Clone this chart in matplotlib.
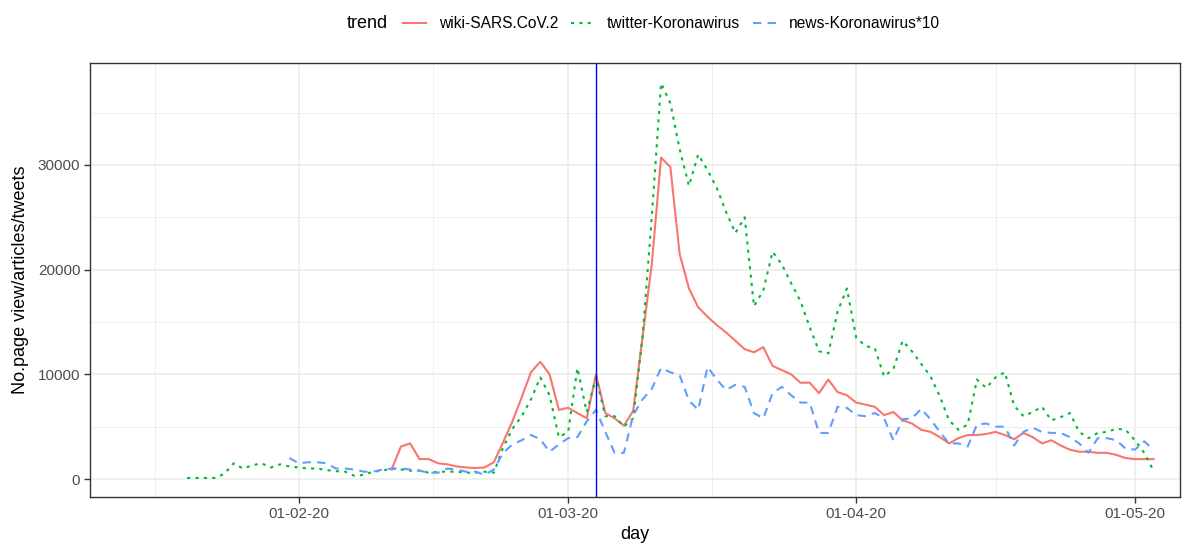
import matplotlib
matplotlib.use('Agg')
import matplotlib.pyplot as plt
import matplotlib.dates as mdates
from matplotlib.lines import Line2D
import numpy as np
import pandas as pd

plt.rcParams['font.family'] = ['Liberation Sans', 'DejaVu Sans']

# dane dzienne
twitter_start = '2020-01-20'
twitter_vals = [100, 100, 100, 100, 500, 1500, 1000, 1300, 1500, 1100, 1400, 1200,
                1100, 1000, 1000, 850, 750, 700, 300, 400, 700, 800,
                1000, 900, 800, 800, 600, 700, 700, 700, 600, 600,
                700, 600, 3000, 4800, 6000, 7600, 9700, 8000, 4000, 4500,
                10600, 6400, 9700, 6000, 6000, 5000, 5800, 13500, 25000, 37800,
                35900, 31500, 28000, 31000, 29500, 27800, 25500, 23500, 25000, 16500,
                18000, 21700, 20500, 18700, 17000, 14500, 12200, 12000, 16000, 18200,
                13500, 12700, 12500, 9800, 10500, 13200, 12200, 11000, 9800, 7900,
                5600, 4700, 5200, 9500, 8700, 9700, 10200, 7000, 6000, 6400,
                6900, 5600, 5900, 6300, 4500, 3900, 4400, 4500, 4800, 4700,
                3700, 2500, 800]

wiki_start = '2020-02-11'
wiki_vals = [900, 3100, 3400, 1900, 1900, 1500, 1400, 1200, 1100, 1050,
             1100, 1600, 3500, 5500, 7800, 10200, 11200, 10000, 6600, 6800,
             6300, 5800, 10000, 6300, 5800, 5100, 6500, 13500, 20500, 30700,
             29800, 21500, 18200, 16400, 15500, 14700, 14000, 13200, 12400, 12100,
             12600, 10800, 10400, 10000, 9200, 9200, 8200, 9500, 8300, 8000,
             7300, 7100, 6900, 6100, 6400, 5600, 5300, 4700, 4500, 4000,
             3400, 3900, 4200, 4200, 4300, 4500, 4200, 3800, 4400, 4000,
             3400, 3700, 3200, 2800, 2600, 2600, 2500, 2500, 2300, 2000,
             1900, 1900, 1900]

news_start = '2020-01-31'
news_vals = [2000,
             1500, 1600, 1600, 1500, 1000, 1000, 900, 700, 700, 900,
             1000, 1000, 900, 800, 600, 600, 1000, 900, 700, 700,
             400, 900, 2500, 3300, 3700, 4200, 3800, 2600, 3300, 3900,
             4000, 5500, 6600, 4500, 2500, 2500, 6100, 7600, 8600, 10600,
             10200, 9900, 7500, 6600, 10700, 9500, 8500, 9000, 8800, 6300,
             5800, 8200, 8800, 8000, 7300, 7300, 4400, 4400, 6900, 6800,
             6100, 6000, 6300, 5800, 3700, 5700, 5800, 6700, 5700, 4500,
             3400, 3400, 3100, 5200, 5300, 5000, 5000, 3200, 4500, 4900,
             4500, 4400, 4400, 4000, 3400, 2500, 3900, 3900, 3700, 2900,
             2800, 3600, 2800]

event_day = '2020-03-04'
labels = ['wiki-SARS.CoV.2', 'twitter-Koronawirus', 'news-Koronawirus*10']
colors = ['#F8766D', '#00BA38', '#619CFF']

wiki = pd.Series(wiki_vals, index=pd.date_range(wiki_start, periods=len(wiki_vals)))
twitter = pd.Series(twitter_vals, index=pd.date_range(twitter_start, periods=len(twitter_vals)))
news = pd.Series(news_vals, index=pd.date_range(news_start, periods=len(news_vals)))

fig = plt.figure(figsize=(11.93, 5.44), dpi=100)
ax = fig.add_axes([90 / 1193, 1 - 497 / 544, 1090 / 1193, 434 / 544])

lw = 1.5
ax.plot(wiki.index, wiki.values, color=colors[0], lw=lw, zorder=3)
ax.plot(twitter.index, twitter.values, color=colors[1], lw=lw, dashes=(1.5, 2.5), zorder=3)
ax.plot(news.index, news.values, color=colors[2], lw=lw, dashes=(4, 3), zorder=3)
ax.axvline(pd.Timestamp(event_day), color='#0000FF', lw=1, zorder=4)

# osie
x0 = mdates.date2num(pd.Timestamp('2020-02-01'))
ax.set_xlim(x0 - 22.46, x0 + 94.85)
ax.set_ylim(-1719, 39733)

majors = pd.to_datetime(['2020-01-01', '2020-02-01', '2020-03-01', '2020-04-01', '2020-05-01'])
maj_num = mdates.date2num(majors)
minor_num = (maj_num[:-1] + maj_num[1:]) / 2
ax.set_xticks(maj_num[1:])
ax.set_xticks(minor_num, minor=True)
ax.xaxis.set_major_formatter(mdates.DateFormatter('%d-%m-%y'))
ax.set_yticks([0, 10000, 20000, 30000])
ax.set_yticks([5000, 15000, 25000, 35000], minor=True)

ax.grid(which='major', color='#EBEBEB', lw=1.1, zorder=0)
ax.grid(which='minor', color='#EBEBEB', lw=0.55, zorder=0)
ax.set_axisbelow(True)
ax.tick_params(which='major', length=4, width=1, color='#333333', labelsize=11,
               labelcolor='#4D4D4D', pad=3)
ax.tick_params(which='minor', length=0)
for s in ax.spines.values():
    s.set_color('#333333')
    s.set_linewidth(1)

ax.set_xlabel('day', fontsize=13, labelpad=4)
ax.set_ylabel('No.page view/articles/tweets', fontsize=13, labelpad=6)

# legenda u góry
handles = [Line2D([], [], color=colors[0], lw=lw),
           Line2D([], [], color=colors[1], lw=lw, dashes=(1.5, 2.5)),
           Line2D([], [], color=colors[2], lw=lw, dashes=(4, 3))]
fig.text(347 / 1193, 1 - 24 / 544, 'trend', fontsize=13, va='center', ha='left')
fig.legend(handles, labels, ncol=3, loc='center left', frameon=False,
           bbox_to_anchor=(395 / 1193, 1 - 24 / 544), fontsize=11.2,
           handlelength=1.5, handletextpad=0.8, columnspacing=0.85, borderpad=0)

fig.savefig('out.png', dpi=100)
